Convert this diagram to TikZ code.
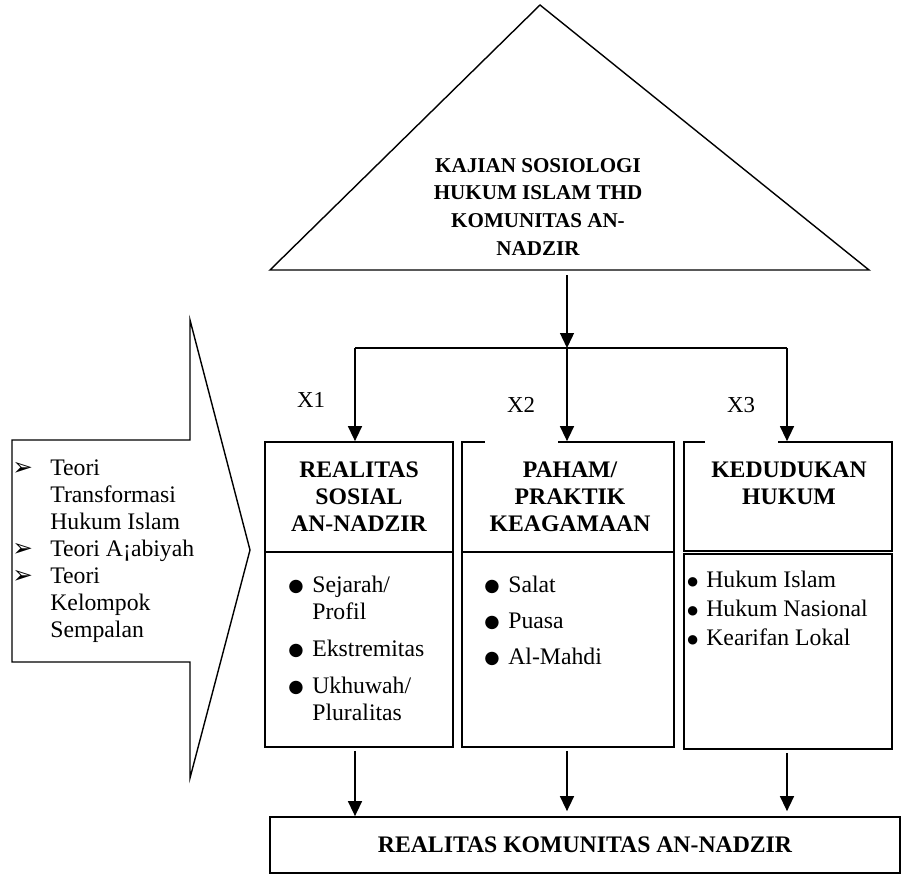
\documentclass[tikz,border=0pt]{standalone}
\usepackage{fontspec}
\setmainfont{Liberation Serif}
\newfontfamily\symbfont{DejaVu Sans}
\usetikzlibrary{arrows.meta,positioning}
\newcommand{\stack}[1]{\begin{tabular}[t]{@{}c@{}}#1\end{tabular}}
\newcommand{\bigdot}{\makebox[4.8mm][l]{\raisebox{0.3pt}{\symbfont\fontsize{10}{10}\selectfont ●}}}
\newcommand{\smalldot}{\makebox[3.8mm][l]{\raisebox{0.8pt}{\symbfont\fontsize{7}{7}\selectfont ●}}}
\newcommand{\pointer}{\makebox[7.6mm][l]{\symbfont\fontsize{14}{14}\selectfont ➢}}
\tikzset{
  boxline/.style={draw=black, line width=1pt},
  headbox/.style={rectangle, boxline, minimum width=#1,
    minimum height=2.2cm, inner sep=0pt},
  listbox/.style={rectangle, boxline, minimum width=#1,
    minimum height=3.9cm, inner sep=0pt},
  headtext/.style={font=\fontsize{13.5}{15.6}\selectfont\bfseries,
    inner sep=0pt, anchor=base},
  listtext/.style={font=\fontsize{13.5}{15.4}\selectfont,
    inner sep=0pt, anchor=base west},
  xtag/.style={font=\fontsize{13}{15}\selectfont, inner sep=0pt, anchor=base},
  covertag/.style={xtag, fill=white, minimum width=1.46cm, text depth=6.6mm},
  flowarrow/.style={-{Triangle[length=3mm, width=2.8mm]}, line width=0.8pt},
}
\begin{document}
\begin{tikzpicture}[x=0.02cm, y=-0.02cm]
  \useasboundingbox (0,0) rectangle (902,875);
  % top triangle
  \coordinate (apex) at (540,5);
  \coordinate (tleft) at (270,270);
  \coordinate (tright) at (869,270);
  \draw[line width=0.8pt, line join=miter] (tleft) -- (apex) -- (tright) -- cycle;
  \node[headtext, font=\fontsize{12}{15.8}\selectfont\bfseries] (judul) at (538,172)
    {\stack{KAJIAN SOSIOLOGI\\HUKUM ISLAM THD\\KOMUNITAS AN-\\NADZIR}};

  % theory arrow on the left
  \draw[line width=0.8pt] (12,440) -- (190,440) -- (190,320) -- (250,550)
    -- (190,778) -- (190,662) -- (12,662) -- cycle;
  \node[listtext] (teori) at (12,475) {\begin{tabular}[t]{@{}l@{}l@{}}
    \pointer & Teori\\ & Transformasi\\ & Hukum Islam\\
    \pointer & Teori A¡abiyah\\
    \pointer & Teori\\ & Kelompok\\ & Sempalan\end{tabular}};

  % three boxes
  \node[headbox=3.76cm] (sosial) at (359,497) {};
  \node[listbox=3.76cm] (sosialisi) at (359,649.5) {};
  \node[headbox=4.24cm] (paham) at (568,497) {};
  \node[listbox=4.24cm] (pahamisi) at (568,649.5) {};
  \node[headbox=4.16cm, minimum height=2.18cm] (hukum) at (788,496.5) {};
  \node[listbox=4.16cm] (hukumisi) at (788,651.5) {};

  \node[headtext] (sosialt) at (359,477) {\stack{REALITAS\\SOSIAL\\AN-NADZIR}};
  \node[headtext] (pahamt) at (570,477) {\stack{PAHAM/\\PRAKTIK\\KEAGAMAAN}};
  \node[headtext] (hukumt) at (789,477) {\stack{KEDUDUKAN\\HUKUM}};

  \node[listtext] (sosiall) at (288,592) {\begin{tabular}[t]{@{}l@{}l@{}}
    \bigdot & Sejarah/\\ & Profil\\[2mm]
    \bigdot & Ekstremitas\\[2mm]
    \bigdot & Ukhuwah/\\ & Pluralitas\end{tabular}};
  \node[listtext] (pahaml) at (484,592) {\begin{tabular}[t]{@{}l@{}l@{}}
    \bigdot & Salat\\[1.8mm]
    \bigdot & Puasa\\[1.8mm]
    \bigdot & Al-Mahdi\end{tabular}};
  \node[listtext] (hukuml) at (687,587) {\begin{tabular}[t]{@{}l@{}l@{}}
    \smalldot & Hukum Islam\\[0.4mm]
    \smalldot & Hukum Nasional\\[0.4mm]
    \smalldot & Kearifan Lokal\end{tabular}};

  % bottom box
  \node[rectangle, boxline, minimum width=12.6cm, minimum height=1.12cm,
    font=\fontsize{13.5}{15.6}\selectfont\bfseries] (akhir) at (585,845)
    {REALITAS KOMUNITAS AN-NADZIR};

  % connectors
  \coordinate (stem) at (567,275);
  \coordinate (f1) at (355,348);
  \coordinate (f2) at (567,348);
  \coordinate (f3) at (787,348);
  \draw[flowarrow] (stem) -- (f2);
  \draw[line width=0.8pt] (f1) -- (f3);
  \foreach \f/\b in {f1/sosial,f2/paham,f3/hukum}
    \draw[flowarrow] (\f) -- (\f |- \b.north);
  \foreach \f/\b/\s in {f1/sosialisi/0mm,f2/pahamisi/1mm,f3/hukumisi/1mm}
    \draw[flowarrow, shorten <=0.6mm, shorten >=\s] (\b.south -| \f) -- (akhir.north -| \f);

  % labels
  \node[xtag] (x1) at (311,407) {X1};
  \node[covertag] (x2) at (521,412) {X2};
  \node[covertag] (x3) at (741,412) {X3};
\end{tikzpicture}
\end{document}
